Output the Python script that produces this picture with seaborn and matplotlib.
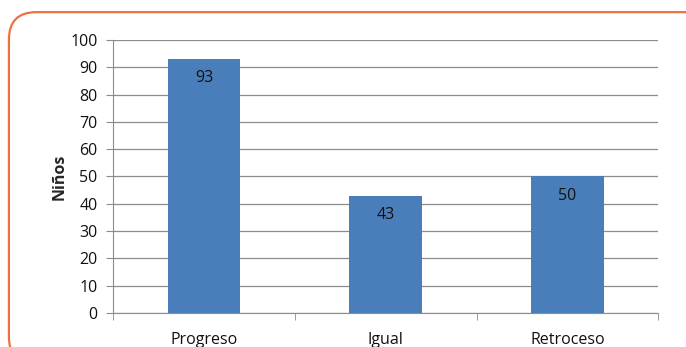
import matplotlib
matplotlib.use("Agg")
import matplotlib.pyplot as plt
from matplotlib.patches import FancyBboxPatch
import pandas as pd
import seaborn as sns

categories = ["Progreso", "Igual", "Retroceso"]
ninos = [93, 43, 50]

df = pd.DataFrame({"categoria": categories, "ninos": ninos})

sns.set_style("white")
plt.rcParams["font.family"] = ["Open Sans", "DejaVu Sans"]

fig = plt.figure(figsize=(6.86, 3.47), dpi=100)
ax = fig.add_axes([0.1647, 0.098, 0.795, 0.787])

# rounded orange frame around the chart
frame = FancyBboxPatch((0.013, -0.05), 1.05, 1.015, transform=fig.transFigure,
                       boxstyle="round,pad=0,rounding_size=0.04",
                       facecolor="none", edgecolor="#f0703f", linewidth=1.6,
                       mutation_aspect=686 / 347, clip_on=False)
fig.patches.append(frame)

sns.barplot(data=df, x="categoria", y="ninos", color="#4a7ebb", saturation=1,
            width=0.4, linewidth=0, ax=ax, zorder=3)

ax.set_ylim(0, 100)
ax.set_xlim(-0.5, 2.5)
ax.set_yticks(range(0, 101, 10))
ax.yaxis.grid(True, color="#8c8c8c", linewidth=0.9, zorder=0)
ax.set_axisbelow(True)

for s in ["top", "right"]:
    ax.spines[s].set_visible(False)
ax.spines["left"].set_color("#8c8c8c")
ax.spines["bottom"].set_color("#8c8c8c")

ax.tick_params(axis="y", length=5, color="#8c8c8c", labelsize=11.5, labelcolor="#111111",
               left=True, pad=6)
ax.tick_params(axis="x", which="major", length=0, labelsize=11.5, labelcolor="#111111", pad=14)
ax.set_xticks([-0.5, 0.5, 1.5, 2.5], minor=True)
ax.tick_params(axis="x", which="minor", length=5, color="#8c8c8c", bottom=True)

ax.set_xlabel("")
ax.set_ylabel("Niños", fontsize=11.5, fontweight="bold", labelpad=2)

for i, v in enumerate(ninos):
    ax.text(i, v - 7, str(v), ha="center", va="center", fontsize=11.5, color="#111111", zorder=4)

fig.savefig("out.png", dpi=100)
